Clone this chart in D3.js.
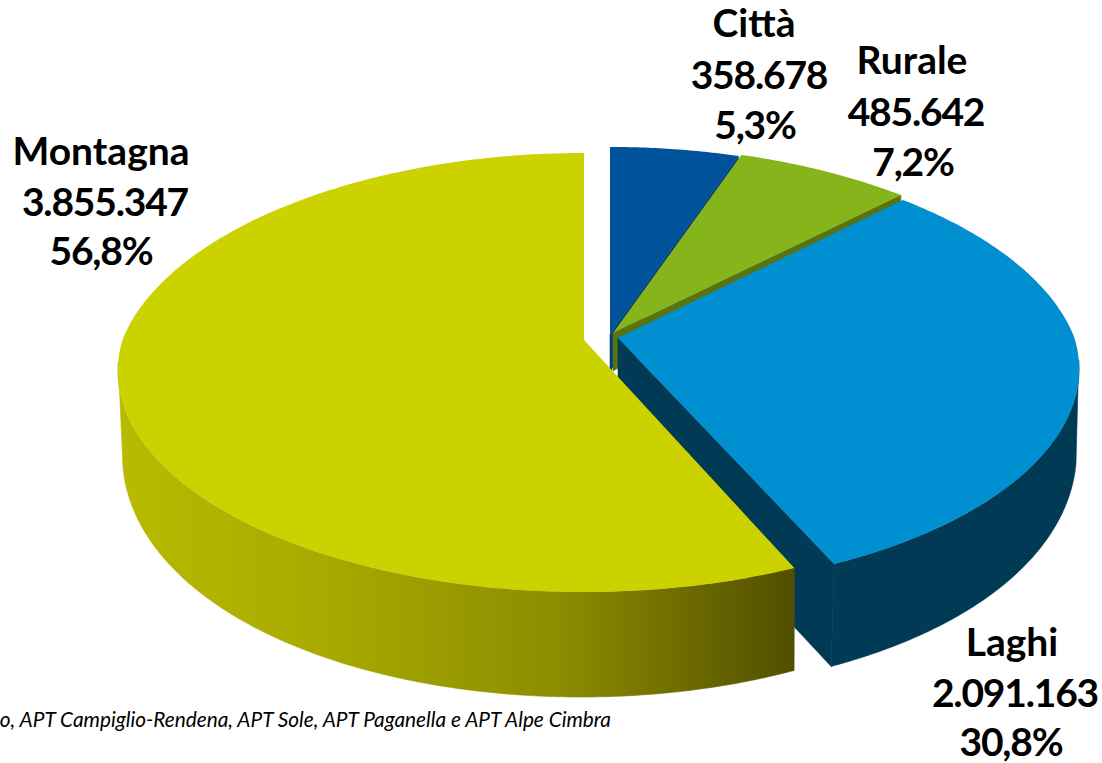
<!DOCTYPE html>
<html>
<head>
<meta charset="utf-8">
<script src="https://cdn.jsdelivr.net/npm/d3@7"></script>
<style>
  html, body { margin: 0; padding: 0; background: #fff; overflow: hidden; }
  text { font-family: Lato, "Open Sans", sans-serif; fill: #000; }
  .label { font-weight: 700; font-size: 39px; text-anchor: middle; }
  .num { letter-spacing: -1.2px; }
  .note { font-style: italic; font-size: 20.8px; text-anchor: end; }
</style>
</head>
<body>
<div id="chart"></div>
<script>
// data
let zones = ['Città', 'Rurale', 'Laghi', 'Montagna'];
let arrivals = [358678, 485642, 2091163, 3855347];
let note = 'o, APT Campiglio-Rendena, APT Sole, APT Paganella e APT Alpe Cimbra';

// look of each slice, same order as zones
let topColors = ['#00529b', '#85b51b', '#008fd0', '#ccd200'];
let wallColors = ['#003f78', '#587310', '#003a55', '#8f9000'];
let apexX = [610, 613, 618, 584];
let apexY = [334, 333, 338, 340];
let upperRx = [461, 461, 456.5, 461.5];
let upperNudge = [0, 0, 0, 0.0175];
let lowerX = [611, 614, 618, 581];
let lowerY = [434, 434, 438, 442];

// label lines: centre x of each line, baseline of each line
let labelX = [[754, 759, 755], [912, 916, 913], [1012, 1015, 1011], [101, 105, 101]];
let labelY = [[37, 89, 139], [74, 126, 176], [656, 707, 756], [165, 216, 265]];

let config = {
    svg: { width: 1102, height: 763 },
    upper: { ry: 214.7, kFar: 0.18, kNear: 0.141, kY: 0.148 },
    lower: { rx: 458, ry: 255, kFar: 0.05, kNear: 0.05, kY: 0 },
    lowerCut: 0.035
};

let it = d3.formatLocale({ decimal: ',', thousands: '.', grouping: [3], currency: ['', ' €'] });
let fmtValue = it.format(',d');
let fmtPct = it.format('.1f');

let svg = d3.select('#chart')
    .append('svg')
        .attr('width', config.svg.width)
        .attr('height', config.svg.height);

// gradient on the side of Montagna
let grad = svg.append('defs').append('linearGradient')
    .attr('id', 'sideMontagna')
    .attr('gradientUnits', 'userSpaceOnUse')
    .attr('x1', 118).attr('x2', 795).attr('y1', 0).attr('y2', 0);
[[0, '#b8bb00'], [0.3, '#a8aa00'], [0.65, '#8c8d00'], [1, '#524e00']].forEach((s) => {
    grad.append('stop').attr('offset', s[0]).attr('stop-color', s[1]);
});

let pie = d3.pie().sort(null).value((d) => d.value);
let total = d3.sum(arrivals);
let slices = pie(zones.map((z, i) => ({ name: z, value: arrivals[i], i: i })));

// perspective: far part of the disc is squeezed
function rim(angle, cx, cy, rx, plane) {
    let s = Math.sin(angle), c = Math.cos(angle);
    let wx = 1 + (c > 0 ? plane.kFar : plane.kNear) * c;
    let wy = 1 + plane.kY * c;
    return [cx + rx * s / wx, cy - plane.ry * c / wy];
}

function arcPoints(a0, a1, cx, cy, rx, plane) {
    let n = Math.max(2, Math.ceil(Math.abs(a1 - a0) / 0.01));
    return d3.range(n + 1).map((k) => rim(a0 + (a1 - a0) * k / n, cx, cy, rx, plane));
}

function upperArc(i, a0, a1) {
    return arcPoints(a0, a1, apexX[i], apexY[i], upperRx[i], config.upper);
}

function lowerArc(i, a0, a1) {
    return arcPoints(a0, a1, lowerX[i], lowerY[i], config.lower.rx, config.lower);
}

let line = d3.line();

function drawTop(d) {
    let i = d.data.i;
    let pts = [[apexX[i], apexY[i]]].concat(upperArc(i, d.startAngle + upperNudge[i], d.endAngle));
    svg.append('path').attr('class', 'top').attr('d', line(pts) + 'Z').attr('fill', topColors[i]);
}

// cut face of a slice, seen through the gap
function drawWall(d) {
    let i = d.data.i;
    let a = d.endAngle;
    let upperEnd = rim(a, apexX[i], apexY[i], upperRx[i], config.upper);
    let pts;
    if (i < 2) {
        // back slices: only a thin strip shows
        pts = [[apexX[i], apexY[i]], upperEnd, [upperEnd[0], upperEnd[1] + 8], [apexX[i], apexY[i] + 38]];
    } else {
        pts = [[apexX[i], apexY[i]], upperEnd, rim(a - config.lowerCut, lowerX[i], lowerY[i], config.lower.rx, config.lower), [lowerX[i], lowerY[i]]];
    }
    svg.append('path').attr('class', 'wall').attr('d', line(pts) + 'Z')
        .attr('fill', wallColors[i])
        .attr('stroke', wallColors[i])
        .attr('stroke-width', 0.6);
}

function drawSide(i, up0, up1, low0, low1, fill) {
    let pts = upperArc(i, up0, up1).concat(lowerArc(i, low1, low0));
    svg.append('path').attr('class', 'side').attr('d', line(pts) + 'Z')
        .attr('fill', fill)
        .attr('stroke', fill)
        .attr('stroke-width', 0.6);
}

// back to front
slices.slice(0, 3).forEach(drawWall);
let laghi = slices[2];
let sideA = Math.PI / 2 + 0.1;
drawSide(2, sideA, laghi.endAngle, sideA, laghi.endAngle - config.lowerCut, wallColors[2]);
slices.slice(0, 3).forEach(drawTop);
let mont = slices[3];
let sideB = Math.PI * 1.5 - 0.1;
drawSide(3, mont.startAngle + upperNudge[3], sideB, mont.startAngle - config.lowerCut, sideB, 'url(#sideMontagna)');
drawTop(mont);

// labels
slices.forEach((d) => {
    let i = d.data.i;
    let lines = [d.data.name, fmtValue(d.data.value), fmtPct(d.data.value / total * 100) + '%'];
    lines.forEach((t, k) => {
        svg.append('text')
            .attr('class', k === 0 ? 'label' : 'label num')
            .attr('x', labelX[i][k])
            .attr('y', labelY[i][k])
            .text(t);
    });
});

svg.append('text')
    .attr('class', 'note')
    .attr('x', 611)
    .attr('y', 727)
    .text(note);
</script>
</body>
</html>
